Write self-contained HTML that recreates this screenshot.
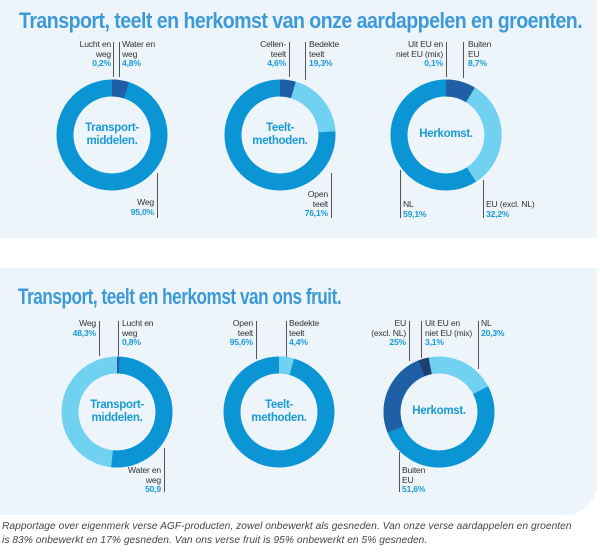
<!DOCTYPE html>
<html><head><meta charset="utf-8"><style>
body{margin:0;width:600px;height:557px;background:#fff;position:relative;overflow:hidden;font-family:"Liberation Sans",sans-serif}
.panel{position:absolute;left:0;background:#edf5fb}
.t{position:absolute;font-weight:bold;color:#3d9ad8;font-size:22px;letter-spacing:-0.6px;white-space:nowrap;transform:scaleX(0.78);transform-origin:0 0}
.l{position:absolute;font-size:8.6px;line-height:9.6px;color:#333;white-space:nowrap;letter-spacing:-0.2px}
.l b{color:#1a9ad6}
.r{text-align:right}
.v{position:absolute;width:1px;background:#555}
.c{position:absolute;width:100px;text-align:center;font-weight:bold;color:#1a9ad6;font-size:11.5px;line-height:13px;letter-spacing:-0.3px}
.cap{position:absolute;left:2px;font-style:italic;font-size:10.2px;color:#444;white-space:nowrap;letter-spacing:0.05px}
svg{position:absolute;left:0;top:0}
</style></head><body>
<div class="panel" style="top:0;height:238px;width:597px"></div>
<div class="panel" style="top:268px;height:247px;width:597px;border-bottom-right-radius:32px"></div>
<div class="t" style="left:19px;top:8px;transform:scaleX(0.89)">Transport, teelt en herkomst van onze aardappelen en groenten.</div>
<div class="t" style="left:18px;top:284px">Transport, teelt en herkomst van ons fruit.</div>

<svg width="600" height="557">
<g fill="none" stroke-width="17">
<g transform="translate(112 135) rotate(-90)">
<circle r="47" pathLength="100" stroke="#0b95d4"/>
<circle r="47" pathLength="100" stroke="#1f5fa6" stroke-dasharray="5 95"/>
</g>
<g transform="translate(280 135) rotate(-90)">
<circle r="47" pathLength="100" stroke="#0b95d4"/>
<circle r="47" pathLength="100" stroke="#71d1f1" stroke-dasharray="0 4.6 19.3 76.1"/>
<circle r="47" pathLength="100" stroke="#1f5fa6" stroke-dasharray="4.6 95.4"/>
</g>
<g transform="translate(446 135) rotate(-90)">
<circle r="47" pathLength="100" stroke="#0b95d4"/>
<circle r="47" pathLength="100" stroke="#71d1f1" stroke-dasharray="0 8.7 32.2 59.1"/>
<circle r="47" pathLength="100" stroke="#1f5fa6" stroke-dasharray="8.7 91.3"/>
</g>
<g transform="translate(117 412) rotate(-90)">
<circle r="47" pathLength="100" stroke="#71d1f1"/>
<circle r="47" pathLength="100" stroke="#0b95d4" stroke-dasharray="0 0.8 50.9 48.3"/>
<circle r="47" pathLength="100" stroke="#1f5fa6" stroke-dasharray="0.8 99.2"/>
</g>
<g transform="translate(279 412) rotate(-90)">
<circle r="47" pathLength="100" stroke="#0b95d4"/>
<circle r="47" pathLength="100" stroke="#71d1f1" stroke-dasharray="4.4 95.6"/>
</g>
<g transform="translate(439 412) rotate(-90)">
<circle r="47" pathLength="100" stroke="#71d1f1"/>
<circle r="47" pathLength="100" stroke="#0b95d4" stroke-dasharray="0 17.3 51.6 31.1"/>
<circle r="47" pathLength="100" stroke="#1f5fa6" stroke-dasharray="0 68.9 25 6.1"/>
<circle r="47" pathLength="100" stroke="#1b3f6e" stroke-dasharray="0 93.9 3.1 3"/>
</g>
</g>
</svg>

<div class="c" style="left:62px;top:122px">Transport-<br>middelen.</div>
<div class="c" style="left:230px;top:122px">Teelt-<br>methoden.</div>
<div class="c" style="left:396px;top:128px">Herkomst.</div>
<div class="c" style="left:67px;top:399px">Transport-<br>middelen.</div>
<div class="c" style="left:229px;top:399px">Teelt-<br>methoden.</div>
<div class="c" style="left:389px;top:405px">Herkomst.</div>

<div class="v" style="left:113px;top:42px;height:35px"></div>
<div class="l r" style="right:489px;top:40px">Lucht en<br>weg<br><b>0,2%</b></div>
<div class="v" style="left:119px;top:42px;height:35px"></div>
<div class="l" style="left:122px;top:40px">Water en<br>weg<br><b>4,8%</b></div>
<div class="v" style="left:157px;top:173px;height:45px"></div>
<div class="l r" style="right:446px;top:198px">Weg<br><b>95,0%</b></div>

<div class="v" style="left:289px;top:42px;height:35px"></div>
<div class="l r" style="right:314px;top:40px">Cellen-<br>teelt<br><b>4,6%</b></div>
<div class="v" style="left:305px;top:42px;height:38px"></div>
<div class="l" style="left:309px;top:40px">Bedekte<br>teelt<br><b>19,3%</b></div>
<div class="v" style="left:331px;top:173px;height:45px"></div>
<div class="l r" style="right:272px;top:190px">Open<br>teelt<br><b>76,1%</b></div>

<div class="v" style="left:446px;top:42px;height:35px"></div>
<div class="l r" style="right:157px;top:40px">Uit EU en<br>niet EU (mix)<br><b>0,1%</b></div>
<div class="v" style="left:463px;top:42px;height:36px"></div>
<div class="l" style="left:468px;top:40px">Buiten<br>EU<br><b>8,7%</b></div>
<div class="v" style="left:400px;top:170px;height:48px"></div>
<div class="l" style="left:403px;top:200px">NL<br><b>59,1%</b></div>
<div class="v" style="left:483px;top:180px;height:38px"></div>
<div class="l" style="left:486px;top:200px">EU (excl. NL)<br><b>32,2%</b></div>

<div class="v" style="left:99px;top:321px;height:35px"></div>
<div class="l r" style="right:504px;top:319px">Weg<br><b>48,3%</b></div>
<div class="v" style="left:118px;top:321px;height:35px"></div>
<div class="l" style="left:122px;top:319px">Lucht en<br>weg<br><b>0,8%</b></div>
<div class="v" style="left:164px;top:448px;height:44px"></div>
<div class="l r" style="right:439px;top:466px">Water en<br>weg<br><b>50,9</b></div>

<div class="v" style="left:256px;top:321px;height:38px"></div>
<div class="l r" style="right:347px;top:319px">Open<br>teelt<br><b>95,6%</b></div>
<div class="v" style="left:286px;top:321px;height:36px"></div>
<div class="l" style="left:289px;top:319px">Bedekte<br>teelt<br><b>4,4%</b></div>

<div class="v" style="left:409px;top:321px;height:40px"></div>
<div class="l r" style="right:194px;top:319px">EU<br>(excl. NL)<br><b>25%</b></div>
<div class="v" style="left:421px;top:321px;height:37px"></div>
<div class="l" style="left:425px;top:319px">Uit EU en<br>niet EU (mix)<br><b>3,1%</b></div>
<div class="v" style="left:478px;top:321px;height:48px"></div>
<div class="l" style="left:481px;top:319px">NL<br><b>20,3%</b></div>
<div class="v" style="left:399px;top:452px;height:40px"></div>
<div class="l" style="left:402px;top:466px">Buiten<br>EU<br><b>51,6%</b></div>

<div class="cap" style="top:521px">Rapportage over eigenmerk verse AGF-producten, zowel onbewerkt als gesneden. Van onze verse aardappelen en groenten</div>
<div class="cap" style="top:535px">is 83% onbewerkt en 17% gesneden. Van ons verse fruit is 95% onbewerkt en 5% gesneden.</div>
</body></html>
